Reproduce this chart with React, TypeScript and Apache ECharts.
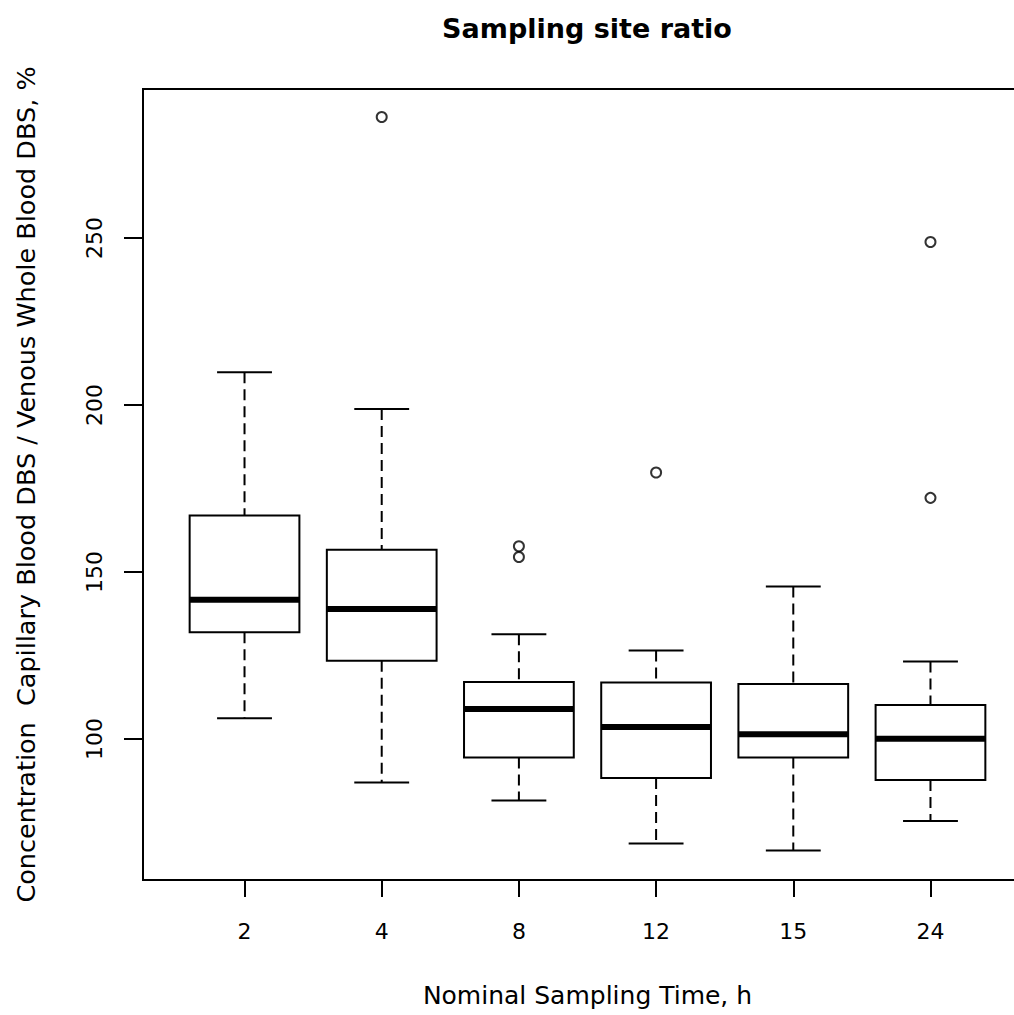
import React, { useEffect, useRef } from 'react';
import * as echarts from 'echarts';

// Nominal sampling times (categories)
const categories = ['2', '4', '8', '12', '15', '24'];
// Box statistics (ratio, %)
const whiskerLow = [106.2, 87.0, 81.6, 68.7, 66.6, 75.5];
const q1 = [132.0, 123.4, 94.5, 88.3, 94.5, 87.7];
const median = [141.7, 138.9, 109.0, 103.6, 101.4, 100.1];
const q3 = [166.9, 156.7, 117.1, 116.9, 116.5, 110.2];
const whiskerHigh = [209.8, 198.8, 131.4, 126.5, 145.7, 123.2];
// Outliers
const outlierCategory = ['4', '8', '8', '12', '24', '24'];
const outlierValue = [286.2, 157.7, 154.5, 179.8, 172.2, 248.8];
// Axis ticks
const yTicks = [100, 150, 200, 250];

const FONT = 'DejaVu Sans';

export default function App() {
  const ref = useRef<HTMLDivElement>(null);
  useEffect(() => {
    const chart = echarts.init(ref.current!, null, { renderer: 'svg' });
    const xPositions = categories.map((_, i) => i + 1);
    const boxData = categories.map((_, i) => [
      i + 1,
      whiskerLow[i],
      q1[i],
      median[i],
      q3[i],
      whiskerHigh[i],
    ]);
    const outlierData = outlierCategory.map((c, i) => [
      categories.indexOf(c) + 1,
      outlierValue[i],
    ]);

    chart.setOption({
      animation: false,
      backgroundColor: '#fff',
      graphic: [
        {
          type: 'text',
          x: 587,
          y: 15,
          style: {
            text: 'Sampling site ratio',
            textAlign: 'center',
            textVerticalAlign: 'top',
            fontFamily: FONT,
            fontWeight: 'bold',
            fontSize: 27,
            fill: '#000',
          },
        },
      ],
      grid: {
        left: 143,
        top: 89,
        width: 889,
        height: 791,
        show: true,
        borderColor: '#000',
        borderWidth: 2,
        backgroundColor: 'transparent',
      },
      xAxis: {
        type: 'value',
        min: 0.26,
        max: 6.74,
        splitLine: { show: false },
        axisLine: { show: true, lineStyle: { color: '#000', width: 2 } },
        axisTick: {
          show: true,
          length: 17,
          lineStyle: { color: '#000', width: 2 },
          customValues: xPositions,
        },
        axisLabel: {
          customValues: xPositions,
          formatter: (v: number) => categories[Math.round(v) - 1] ?? '',
          margin: 40,
          fontFamily: FONT,
          fontSize: 22,
          color: '#000',
        },
        name: 'Nominal Sampling Time, h',
        nameLocation: 'middle',
        nameGap: 103,
        nameTextStyle: { fontFamily: FONT, fontSize: 25, color: '#000' },
      },
      yAxis: {
        type: 'value',
        min: 57.8,
        max: 294.6,
        splitLine: { show: false },
        axisLine: { show: true, lineStyle: { color: '#000', width: 2 } },
        axisTick: {
          show: true,
          length: 19,
          lineStyle: { color: '#000', width: 2 },
          customValues: yTicks,
        },
        axisLabel: {
          customValues: yTicks,
          rotate: 90,
          margin: 38,
          fontFamily: FONT,
          fontSize: 22,
          color: '#000',
        },
        name: 'Concentration  Capillary Blood DBS / Venous Whole Blood DBS, %',
        nameLocation: 'middle',
        nameRotate: 90,
        nameGap: 104,
        nameTextStyle: { fontFamily: FONT, fontSize: 25.5, color: '#000' },
      },
      series: [
        {
          type: 'custom',
          data: boxData,
          encode: { x: 0, y: [1, 2, 3, 4, 5] },
          renderItem: (params: any, api: any) => {
            const x = api.value(0);
            const lo = api.coord([x, api.value(1)]);
            const b1 = api.coord([x, api.value(2)]);
            const md = api.coord([x, api.value(3)]);
            const b3 = api.coord([x, api.value(4)]);
            const hi = api.coord([x, api.value(5)]);
            const boxW = api.size([0.8, 0])[0];
            const capW = api.size([0.4, 0])[0];
            const cx = lo[0];
            const solid = { stroke: '#000', lineWidth: 2, fill: 'none' };
            const dash = { stroke: '#000', lineWidth: 2, lineDash: [11, 6], fill: 'none' };
            return {
              type: 'group',
              children: [
                { type: 'line', shape: { x1: cx, y1: hi[1], x2: cx, y2: b3[1] }, style: dash },
                { type: 'line', shape: { x1: cx, y1: b1[1], x2: cx, y2: lo[1] }, style: dash },
                {
                  type: 'line',
                  shape: { x1: cx - capW / 2, y1: hi[1], x2: cx + capW / 2, y2: hi[1] },
                  style: solid,
                },
                {
                  type: 'line',
                  shape: { x1: cx - capW / 2, y1: lo[1], x2: cx + capW / 2, y2: lo[1] },
                  style: solid,
                },
                {
                  type: 'rect',
                  shape: { x: cx - boxW / 2, y: b3[1], width: boxW, height: b1[1] - b3[1] },
                  style: { fill: 'none', stroke: '#000', lineWidth: 2 },
                },
                {
                  type: 'line',
                  shape: { x1: cx - boxW / 2, y1: md[1], x2: cx + boxW / 2, y2: md[1] },
                  style: { stroke: '#000', lineWidth: 6, fill: 'none' },
                },
              ],
            };
          },
        },
        {
          type: 'scatter',
          data: outlierData,
          symbol: 'circle',
          symbolSize: 10,
          itemStyle: { color: 'rgba(255,255,255,0)', borderColor: '#000', borderWidth: 2 },
        },
      ],
    });
    return () => chart.dispose();
  }, []);
  return (
    <div
      ref={ref}
      style={{ position: 'fixed', left: 0, top: 0, width: 1040, height: 1015, background: '#fff' }}
    />
  );
}
